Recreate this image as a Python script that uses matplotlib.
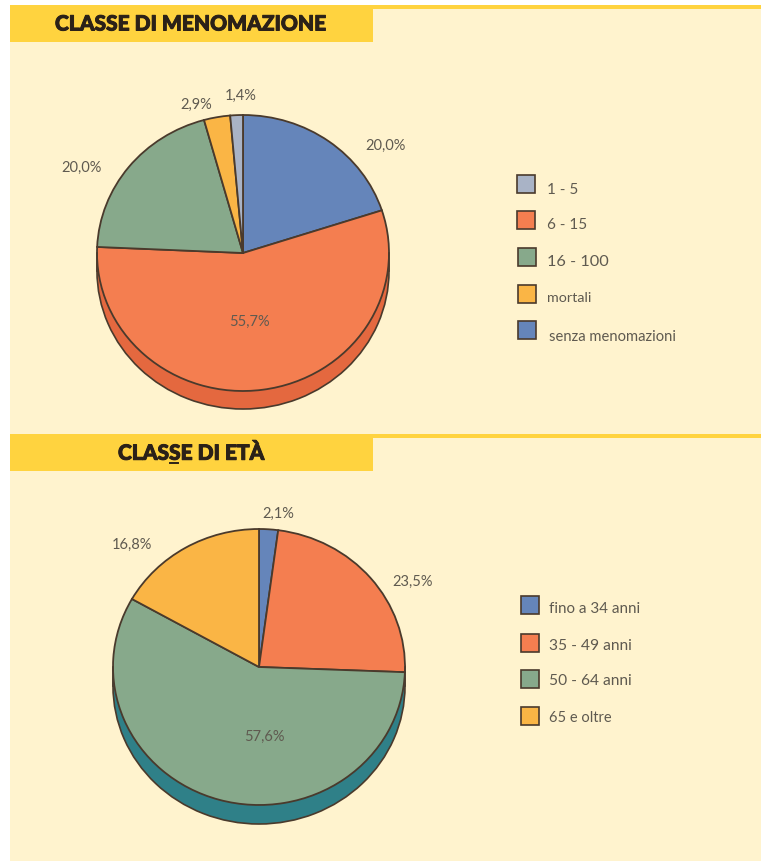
import matplotlib
matplotlib.use('Agg')
import matplotlib.pyplot as plt
import matplotlib.patheffects as pe
from matplotlib.patches import Rectangle

W, H = 761, 862

# classe di menomazione, clockwise from twelve o'clock
men_labels = ['senza menomazioni', '6 - 15', '16 - 100', 'mortali', '1 - 5']
men_values = [20.0, 55.7, 20.0, 2.9, 1.4]
# classe di eta, clockwise from twelve o'clock
eta_labels = ['fino a 34 anni', '35 - 49 anni', '50 - 64 anni', '65 e oltre']
eta_values = [2.1, 23.5, 57.6, 16.8]

BLUE = '#6585BA'
ORANGE = '#F47E50'
GREEN = '#87A98B'
YELLOW = '#FAB545'
GREY = '#A9B3C6'
men_colors = [BLUE, ORANGE, GREEN, YELLOW, GREY]
eta_colors = [BLUE, ORANGE, GREEN, YELLOW]

BG = '#FFF3CE'
BAND = '#FFD33F'
EDGE = '#4A3A2C'
TEXT = '#5F5A50'
TITLE = '#2B2118'
plt.rcParams['font.family'] = ['Lato', 'DejaVu Sans']

fig = plt.figure(figsize=(W / 100, H / 100), dpi=100, facecolor='white')

# whole-figure axes in pixel units for the panels, bands and legend boxes
bg = fig.add_axes([0, 0, 1, 1], zorder=0)
bg.set_xlim(0, W)
bg.set_ylim(H, 0)
bg.axis('off')
bg.add_patch(Rectangle((10, 6), W - 10, H, fc=BG, ec='none'))
for top, line_top, bottom in [(9, 6, 43), (437, 435, 472)]:
    bg.add_patch(Rectangle((10, line_top), W - 10, 4, fc=BAND, ec='none'))
    bg.add_patch(Rectangle((10, top), 363, bottom - top, fc=BAND, ec='none'))


def txt(x, y, s, size=9, color=TEXT, ha='left', weight='normal'):
    return fig.text(x / W, 1 - y / H, s, fontsize=size, color=color, ha=ha, va='center', fontweight=weight)


def fmt(v):
    return f'{v:.1f}%'.replace('.', ',')


def draw_pie(values, colors, side_color, cx, cy, rx, ry, depth):
    # axes spans 1.25 radii each way so unit circle becomes the wanted ellipse
    ax = fig.add_axes([(cx - 1.25 * rx) / W, 1 - (cy + 1.25 * ry) / H, 2.5 * rx / W, 2.5 * ry / H], zorder=1)
    ax.patch.set_alpha(0)
    d = depth / ry
    # thickness: same disc shifted down, closed at the sides
    ax.pie([1], colors=[side_color], startangle=90, center=(0, -d),
           wedgeprops={'edgecolor': EDGE, 'linewidth': 1.2})
    ax.add_patch(Rectangle((-1, -d), 2, d, fc=side_color, ec='none'))
    ax.plot([-1, -1], [-d, 0], color=EDGE, lw=1.2)
    ax.plot([1, 1], [-d, 0], color=EDGE, lw=1.2)
    ax.pie(values, colors=colors, startangle=90, counterclock=False,
           wedgeprops={'edgecolor': EDGE, 'linewidth': 1.3})
    ax.set_aspect('auto')
    ax.set_xlim(-1.25, 1.25)
    ax.set_ylim(-1.25, 1.25)


draw_pie(men_values, men_colors, '#E4683F', 243, 254, 146, 138, 18)
draw_pie(eta_values, eta_colors, '#2F8088', 259, 668, 146, 138, 19)

# titles, thickened with a thin stroke
for t in [txt(55, 25, 'CLASSE DI MENOMAZIONE', size=15.1, color=TITLE, weight='black'),
          txt(118, 454, 'CLASSE DI ETÀ', size=15.1, color=TITLE, weight='black')]:
    t.set_path_effects([pe.withStroke(linewidth=0.7, foreground=TITLE)])
bg.plot([170, 178], [463.5, 463.5], color=TITLE, lw=1.4)

# value labels
men_pos = [(386, 145.5), (249, 321.5), (82, 167.5), (196, 104.5), (241, 95.5)]
for (x, y), v in zip(men_pos, men_values):
    txt(x, y, fmt(v), size=10.5, ha='center')
eta_pos = [(278, 513.5), (413, 581.5), (264, 736.5), (132, 544.5)]
for (x, y), v in zip(eta_pos, eta_values):
    txt(x, y, fmt(v), size=10.5, ha='center')

# legends, drawn in the order of the printed key
men_key = [(4, 526, 185, 547, 190, 11), (1, 526, 221, 547, 225, 11), (2, 527, 258, 547, 262, 11.8),
           (3, 527, 295, 547, 298, 10.3), (0, 527, 331, 549, 337, 10.6)]
for i, bx, by, tx, ty, size in men_key:
    bg.add_patch(Rectangle((bx - 9, by - 9), 18, 18, fc=men_colors[i], ec=EDGE, lw=1.2))
    txt(tx, ty, men_labels[i], size=size)

eta_key = [(0, 530, 606, 549, 609, 10.9), (1, 530, 644, 549, 646, 11.2), (2, 530, 680, 549, 681, 11.2),
           (3, 530, 717, 549, 718, 10.5)]
for i, bx, by, tx, ty, size in eta_key:
    bg.add_patch(Rectangle((bx - 9, by - 9), 18, 18, fc=eta_colors[i], ec=EDGE, lw=1.2))
    txt(tx, ty, eta_labels[i], size=size)

fig.savefig('out.png', dpi=100, facecolor='white')
